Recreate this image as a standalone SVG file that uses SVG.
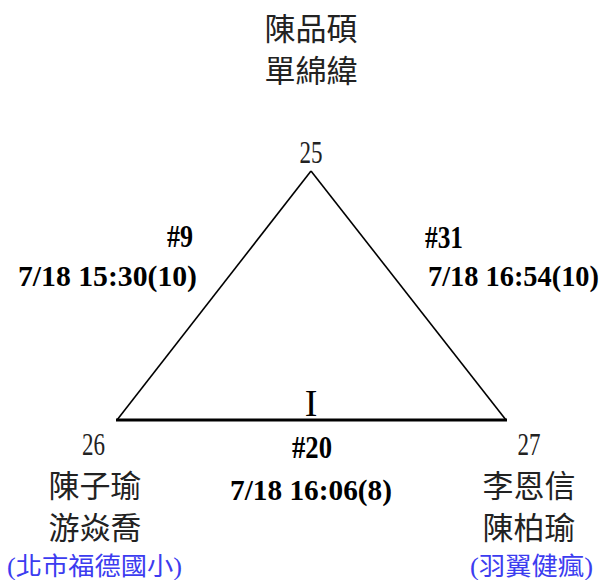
<svg xmlns="http://www.w3.org/2000/svg" width="606" height="580" viewBox="0 0 606 580">
<style>
.nm{font-family:"Liberation Serif","Noto Sans CJK TC",serif;font-size:31px;fill:#222;text-anchor:middle}
.num{font-family:"Liberation Serif",serif;font-size:31px;fill:#222;text-anchor:middle}
.hs{font-family:"Liberation Serif",serif;font-size:31px;font-weight:bold;fill:#000;text-anchor:middle}
.lb{font-family:"Liberation Serif",serif;font-size:30px;font-weight:bold;fill:#000;text-anchor:middle}
.cl{font-family:"Liberation Serif","Noto Sans CJK TC",serif;font-size:25px;fill:#3c3cf0;text-anchor:middle}
</style>
<rect width="606" height="580" fill="#fff"/>
<g id="connectors" stroke="#000" fill="none">
<line x1="311" y1="171" x2="117" y2="420" stroke-width="1.6"/>
<line x1="311" y1="171" x2="506" y2="420" stroke-width="1.6"/>
<line x1="116" y1="420" x2="507" y2="420" stroke-width="3"/>
</g>
<g id="edge-labels">
<text class="hs" x="180" y="247" textLength="26" lengthAdjust="spacingAndGlyphs">#9</text>
<text class="lb" x="107.5" y="286" textLength="179" lengthAdjust="spacingAndGlyphs">7/18 15:30(10)</text>
<text class="hs" x="444" y="248" textLength="38" lengthAdjust="spacingAndGlyphs">#31</text>
<text class="lb" x="428" y="286" font-size="27" text-anchor="start" textLength="171" lengthAdjust="spacingAndGlyphs" transform="translate(0,286) scale(1,1.12) translate(0,-286)" style="font-size:27px;text-anchor:start">7/18 16:54(10)</text>
<text class="hs" x="312" y="458" textLength="40" lengthAdjust="spacingAndGlyphs">#20</text>
<text class="lb" x="311" y="500" textLength="162" lengthAdjust="spacingAndGlyphs">7/18 16:06(8)</text>
<text x="311" y="416" font-family="Liberation Serif,serif" font-size="38" fill="#000" text-anchor="middle">I</text>
</g>
<g id="node-25">
<text class="num" x="311" y="163" textLength="23" lengthAdjust="spacingAndGlyphs">25</text>
<text class="nm" x="311" y="40">陳品碩</text>
<text class="nm" x="311" y="82">單綿緯</text>
</g>
<g id="node-26">
<text class="num" x="93.5" y="455" textLength="23" lengthAdjust="spacingAndGlyphs">26</text>
<text class="nm" x="95" y="497">陳子瑜</text>
<text class="nm" x="95" y="539">游焱喬</text>
<text class="cl" x="94.5" y="575" textLength="175" lengthAdjust="spacingAndGlyphs">(北市福德國小)</text>
</g>
<g id="node-27">
<text class="num" x="529" y="455" textLength="23" lengthAdjust="spacingAndGlyphs">27</text>
<text class="nm" x="529" y="497">李恩信</text>
<text class="nm" x="529" y="539">陳柏瑜</text>
<text class="cl" x="531.5" y="575" textLength="123" lengthAdjust="spacingAndGlyphs">(羽翼健瘋)</text>
</g>
</svg>
